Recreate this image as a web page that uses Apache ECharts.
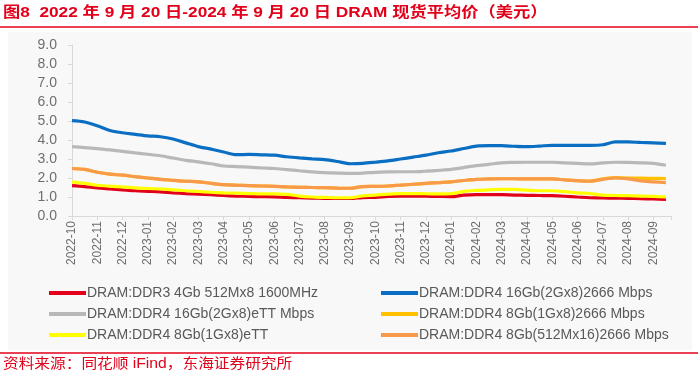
<!DOCTYPE html>
<html>
<head>
<meta charset="utf-8">
<script src="https://cdn.jsdelivr.net/npm/echarts@6/dist/echarts.min.js"></script>
<style>html,body{margin:0;padding:0;background:#fff;}#c{width:700px;height:378px;}</style>
</head>
<body>
<div id="c"></div>
<script>
// Month tick labels (one per month)
var tickLabels = ['2022-10','2022-11','2022-12','2023-01','2023-02','2023-03','2023-04','2023-05','2023-06','2023-07','2023-08','2023-09','2023-10','2023-11','2023-12','2024-01','2024-02','2024-03','2024-04','2024-05','2024-06','2024-07','2024-08','2024-09'];
// Series names
var seriesNames = ['DRAM:DDR3 4Gb 512Mx8 1600MHz','DRAM:DDR4 16Gb(2Gx8)2666 Mbps','DRAM:DDR4 16Gb(2Gx8)eTT Mbps','DRAM:DDR4 8Gb(1Gx8)2666 Mbps','DRAM:DDR4 8Gb(1Gx8)eTT','DRAM:DDR4 8Gb(512Mx16)2666 Mbps'];
// Half-monthly samples (USD)
var ddr3_4Gb = [1.6,1.55,1.48,1.43,1.38,1.33,1.3,1.27,1.22,1.18,1.15,1.12,1.08,1.05,1.03,1.02,1.01,0.98,0.96,0.94,0.93,0.92,0.92,0.97,0.98,1.03,1.05,1.05,1.04,1.03,1.02,1.1,1.12,1.12,1.12,1.1,1.09,1.08,1.07,1.04,1.0,0.96,0.95,0.94,0.93,0.91,0.9,0.88];
var ddr4_16Gb_2666 = [5.02,4.95,4.75,4.5,4.38,4.3,4.22,4.17,4.05,3.85,3.65,3.52,3.37,3.23,3.24,3.22,3.2,3.12,3.06,3.01,2.97,2.87,2.75,2.77,2.83,2.9,3.0,3.1,3.2,3.33,3.42,3.55,3.68,3.7,3.7,3.67,3.65,3.68,3.72,3.72,3.72,3.72,3.75,3.9,3.9,3.87,3.85,3.82];
var ddr4_16Gb_eTT = [3.65,3.6,3.55,3.48,3.4,3.32,3.25,3.17,3.05,2.93,2.85,2.75,2.63,2.6,2.57,2.53,2.5,2.44,2.38,2.32,2.28,2.26,2.24,2.26,2.3,2.32,2.33,2.33,2.36,2.4,2.45,2.55,2.65,2.72,2.8,2.82,2.83,2.83,2.83,2.8,2.77,2.74,2.8,2.83,2.82,2.8,2.77,2.67];
var ddr4_8Gb_2666 = [2.5,2.45,2.3,2.2,2.15,2.07,2.0,1.93,1.88,1.83,1.8,1.72,1.65,1.62,1.6,1.58,1.56,1.53,1.51,1.5,1.49,1.47,1.46,1.55,1.56,1.58,1.62,1.67,1.72,1.76,1.8,1.87,1.93,1.95,1.96,1.96,1.95,1.95,1.95,1.9,1.86,1.84,1.95,2.02,2.0,1.99,1.98,1.97];
var ddr4_8Gb_eTT = [1.8,1.72,1.62,1.57,1.53,1.48,1.45,1.42,1.38,1.33,1.29,1.25,1.22,1.2,1.18,1.16,1.16,1.14,1.05,1.0,0.98,0.96,0.96,1.06,1.1,1.15,1.18,1.18,1.17,1.16,1.17,1.3,1.35,1.38,1.4,1.4,1.36,1.33,1.33,1.28,1.22,1.18,1.1,1.08,1.07,1.05,1.03,1.01];
var ddr4_8Gb_512M = [2.5,2.45,2.3,2.2,2.15,2.07,2.0,1.93,1.88,1.83,1.8,1.72,1.65,1.62,1.6,1.58,1.56,1.53,1.51,1.5,1.49,1.47,1.46,1.55,1.56,1.58,1.62,1.67,1.72,1.76,1.8,1.87,1.93,1.95,1.96,1.96,1.95,1.95,1.95,1.9,1.86,1.83,1.93,2.0,1.95,1.85,1.8,1.75];

var colors = ['#e2001a','#0a6fc2','#b8b8b8','#ffc000','#ffff00','#f89a4a'];
var allData = [ddr3_4Gb, ddr4_16Gb_2666, ddr4_16Gb_eTT, ddr4_8Gb_2666, ddr4_8Gb_eTT, ddr4_8Gb_512M];

function pairs(arr){ return arr.map(function(v,i){ return [i, v]; }); }

var chart = echarts.init(document.getElementById('c'), null, {renderer:'canvas'});
var series = seriesNames.map(function(n, k){
  return {
    name: n, type: 'line', data: pairs(allData[k]), showSymbol: false, symbol: 'none',
    smooth: 0.3, lineStyle: {width: 3.2, color: colors[k]}, itemStyle: {color: colors[k]},
    animation: false
  };
});
var legendCommon = {
  orient: 'vertical', itemWidth: 37, itemHeight: 4, itemGap: 7,
  icon: 'rect',
  textStyle: {fontSize: 14, color: '#595959', fontFamily: 'Liberation Sans, Arial, sans-serif', padding: [0,0,0,-4]}
};
chart.setOption({
  animation: false,
  backgroundColor: '#ffffff',
  graphic: [
    {type:'rect', shape:{x:8, y:32, width:684, height:318}, style:{fill:'#f8f8f8'}, z:-10, silent:true},
    {type:'text', left: 3, top: 5, style:{text:'图8  2022 年 9 月 20 日-2024 年 9 月 20 日 DRAM 现货平均价（美元）', fill:'#e2001a', font:'bold 15px "Liberation Sans", "Noto Sans CJK SC", sans-serif'}, scaleX: 1.15},
    {type:'line', shape:{x1:0, y1:27, x2:698, y2:27}, style:{stroke:'#e2001a', lineWidth:1.5}},
    {type:'line', shape:{x1:0, y1:353, x2:698, y2:353}, style:{stroke:'#e2001a', lineWidth:1.5}},
    {type:'text', left: 3, top: 357, style:{text:'资料来源：同花顺 iFind，东海证券研究所', fill:'#e2001a', font:'14px "Liberation Sans", "Noto Sans CJK SC", sans-serif'}, scaleX: 1.12}
  ],
  legend: [
    Object.assign({left: 44, top: 281, data: [seriesNames[0], seriesNames[2], seriesNames[4]]}, legendCommon),
    Object.assign({left: 376, top: 281, data: [seriesNames[1], seriesNames[3], seriesNames[5]]}, legendCommon)
  ],
  grid: {left: 72, right: 29, top: 45, bottom: 162, containLabel: false},
  xAxis: {
    type: 'value', min: 0, max: 47.4, interval: 2,
    axisLine: {lineStyle: {color: '#d9d9d9', width: 1}},
    axisTick: {show: true, length: 4, lineStyle: {color: '#d9d9d9'}},
    splitLine: {show: false},
    axisLabel: {
      rotate: 90, fontSize: 12, color: '#6e6e6e', margin: 5,
      fontFamily: 'Liberation Sans, Arial, sans-serif',
      formatter: function(v){ var k = v/2; return (Number.isInteger(k) && tickLabels[k]) ? tickLabels[k] : ''; }
    }
  },
  yAxis: {
    type: 'value', min: 0, max: 9, interval: 1,
    axisLine: {show: true, lineStyle: {color: '#d9d9d9', width: 1}},
    axisTick: {show: true, length: 4, lineStyle: {color: '#d9d9d9'}},
    splitLine: {show: false},
    axisLabel: {fontSize: 14, color: '#6e6e6e', margin: 15, fontFamily: 'Liberation Sans, Arial, sans-serif',
      formatter: function(v){ return v.toFixed(1); }}
  },
  series: series
});
</script>
</body>
</html>
